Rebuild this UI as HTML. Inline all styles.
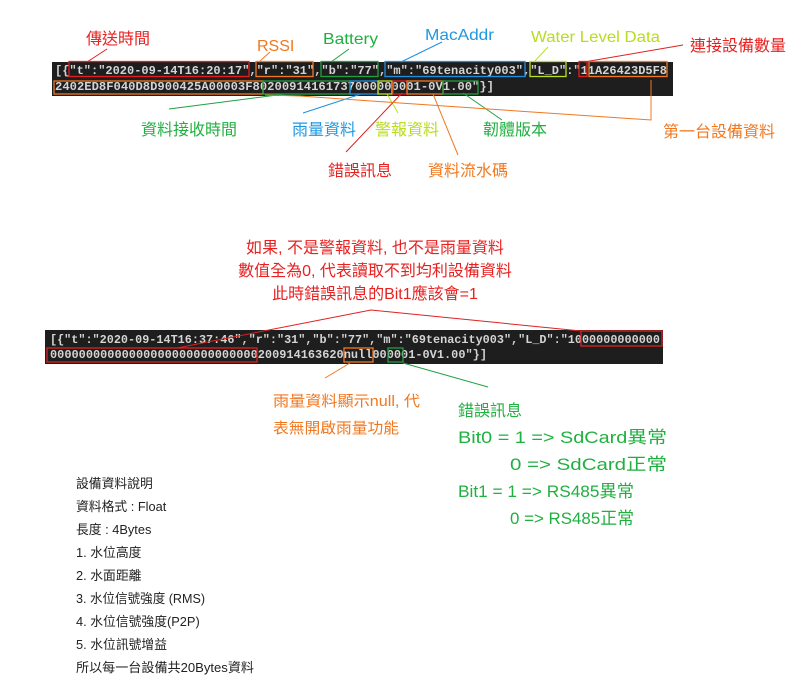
<!DOCTYPE html>
<html><head><meta charset="utf-8"><style>
html,body{margin:0;padding:0;background:#fff;width:810px;height:689px;overflow:hidden}
svg{display:block}
.m{font-family:"Liberation Mono","DejaVu Sans Mono",monospace;font-weight:bold;font-size:12px;fill:#d4d4d4}
.l{font-family:"Liberation Sans","Noto Sans CJK TC",sans-serif;font-size:16px}
.s{font-family:"Liberation Sans","Noto Sans CJK TC",sans-serif;font-size:12.8px;fill:#222}
</style></head><body>
<svg width="810" height="689" viewBox="0 0 810 689" xmlns="http://www.w3.org/2000/svg">
<!-- block 1 -->
<rect x="52" y="62" width="621" height="34" fill="#1e1e1e"/>
<text class="m" x="55" y="74" textLength="612" lengthAdjust="spacingAndGlyphs">[{"t":"2020-09-14T16:20:17","r":"31","b":"77","m":"69tenacity003","L_D":"11A26423D5F8</text>
<text class="m" x="55" y="90" textLength="439" lengthAdjust="spacingAndGlyphs">2402ED8F040D8D900425A00003F80200914161737000000001-0V1.00"}]</text>
<g fill="none" stroke-width="1.3">
<rect x="69" y="61.5" width="180" height="15" stroke="#e02020"/>
<rect x="256" y="61.5" width="57" height="15" stroke="#f07820"/>
<rect x="321" y="61.5" width="57" height="15" stroke="#20a040"/>
<rect x="385" y="61.5" width="140" height="15" stroke="#1e90e0"/>
<rect x="530" y="61.5" width="36" height="15" stroke="#b8e020"/>
<rect x="579" y="61.5" width="8" height="15" stroke="#e02020"/>
<rect x="589" y="61.5" width="78" height="15" stroke="#f07820"/>
<rect x="54" y="81" width="209" height="13" stroke="#f07820"/>
<rect x="263" y="81" width="87" height="13" stroke="#20a040"/>
<rect x="350" y="81" width="28" height="13" stroke="#1e90e0"/>
<rect x="378" y="81" width="14" height="13" stroke="#b8e020"/>
<rect x="393" y="81" width="14" height="13" stroke="#e02020"/>
<rect x="407" y="81" width="36" height="13" stroke="#f07820"/>
<rect x="443" y="81" width="35" height="13" stroke="#20a040"/>
</g>
<g fill="none" stroke-width="1">
<line x1="107" y1="49" x2="87" y2="62" stroke="#e02020"/>
<line x1="270" y1="52" x2="259" y2="62" stroke="#f07820"/>
<line x1="349" y1="49" x2="331" y2="62" stroke="#20a040"/>
<line x1="442" y1="42" x2="401" y2="62" stroke="#1e90e0"/>
<line x1="548" y1="47" x2="534" y2="62" stroke="#b8e020"/>
<line x1="683" y1="45" x2="584" y2="62" stroke="#e02020"/>
<line x1="169" y1="109" x2="285" y2="94" stroke="#20a040"/>
<line x1="303" y1="113" x2="361" y2="94" stroke="#1e90e0"/>
<line x1="398" y1="113" x2="387" y2="94" stroke="#b8e020"/>
<line x1="346" y1="152" x2="402" y2="93" stroke="#e02020"/>
<line x1="458" y1="155" x2="433" y2="94" stroke="#f07820"/>
<line x1="502" y1="120" x2="463" y2="93" stroke="#20a040"/>
<polyline points="265,95 300,96 400,103 651,120 651,80" stroke="#f07820"/>
</g>
<text class="l" x="86" y="44" fill="#e82020">傳送時間</text>
<text class="l" x="257" y="51" fill="#f07820">RSSI</text>
<text class="l" x="323" y="44" fill="#20b040" textLength="55" lengthAdjust="spacingAndGlyphs">Battery</text>
<text class="l" x="425" y="40" fill="#1e98e0" textLength="69" lengthAdjust="spacingAndGlyphs">MacAddr</text>
<text class="l" x="531" y="42" fill="#b8dc20" textLength="129" lengthAdjust="spacingAndGlyphs">Water Level Data</text>
<text class="l" x="690" y="51" fill="#e82020">連接設備數量</text>
<text class="l" x="141" y="135" fill="#20b040">資料接收時間</text>
<text class="l" x="292" y="135" fill="#1e98e0">雨量資料</text>
<text class="l" x="375" y="135" fill="#b8dc20">警報資料</text>
<text class="l" x="483" y="135" fill="#20b040">韌體版本</text>
<text class="l" x="663" y="137" fill="#f07820">第一台設備資料</text>
<text class="l" x="328" y="176" fill="#e82020">錯誤訊息</text>
<text class="l" x="428" y="176" fill="#f07820">資料流水碼</text>

<!-- middle red text -->
<text class="l" x="375" y="253" fill="#e82020" text-anchor="middle">如果, 不是警報資料, 也不是雨量資料</text>
<text class="l" x="375" y="276" fill="#e82020" text-anchor="middle">數值全為0, 代表讀取不到均利設備資料</text>
<text class="l" x="375" y="299" fill="#e82020" text-anchor="middle">此時錯誤訊息的Bit1應該會=1</text>

<!-- block 2 -->
<rect x="45" y="330" width="618" height="34" fill="#1e1e1e"/>
<text class="m" x="50" y="343" textLength="610" lengthAdjust="spacingAndGlyphs">[{"t":"2020-09-14T16:37:46","r":"31","b":"77","m":"69tenacity003","L_D":"1000000000000</text>
<text class="m" x="50" y="358" textLength="437" lengthAdjust="spacingAndGlyphs">00000000000000000000000000000200914163620null000001-0V1.00"}]</text>
<g fill="none" stroke-width="1.3">
<rect x="581" y="331" width="81" height="15" stroke="#e02020"/>
<rect x="47" y="348" width="210" height="14" stroke="#e02020"/>
<rect x="344" y="348" width="29" height="14" stroke="#f07820"/>
<rect x="388" y="348" width="15" height="14" stroke="#20a040"/>
</g>
<g fill="none" stroke-width="1">
<polyline points="177,348 371,310 581,331" stroke="#e02020"/>
<line x1="350" y1="363" x2="325" y2="378" stroke="#f07820"/>
<line x1="403" y1="363" x2="488" y2="387" stroke="#20a040"/>
</g>
<text class="l" x="273" y="406" fill="#f07820" style="font-size:15px" textLength="147" lengthAdjust="spacingAndGlyphs">雨量資料顯示null, 代</text>
<text class="l" x="273" y="433" fill="#f07820" style="font-size:15px" textLength="126" lengthAdjust="spacingAndGlyphs">表無開啟雨量功能</text>
<text class="l" x="458" y="416" fill="#20b040">錯誤訊息</text>
<text class="l" x="458" y="443" fill="#20b040" style="font-size:17px" textLength="209" lengthAdjust="spacingAndGlyphs">Bit0 = 1 =&gt; SdCard異常</text>
<text class="l" x="510" y="470" fill="#20b040" style="font-size:17px" textLength="157" lengthAdjust="spacingAndGlyphs">0 =&gt; SdCard正常</text>
<text class="l" x="458" y="497" fill="#20b040" style="font-size:17px" textLength="176" lengthAdjust="spacingAndGlyphs">Bit1 = 1 =&gt; RS485異常</text>
<text class="l" x="510" y="524" fill="#20b040" style="font-size:17px" textLength="124" lengthAdjust="spacingAndGlyphs">0 =&gt; RS485正常</text>

<!-- bottom notes -->
<text class="s" x="76" y="488">設備資料說明</text>
<text class="s" x="76" y="511">資料格式 : Float</text>
<text class="s" x="76" y="534">長度 : 4Bytes</text>
<text class="s" x="76" y="557">1. 水位高度</text>
<text class="s" x="76" y="580">2. 水面距離</text>
<text class="s" x="76" y="603" textLength="129" lengthAdjust="spacingAndGlyphs">3. 水位信號強度 (RMS)</text>
<text class="s" x="76" y="626">4. 水位信號強度(P2P)</text>
<text class="s" x="76" y="649">5. 水位訊號增益</text>
<text class="s" x="76" y="672" textLength="178" lengthAdjust="spacingAndGlyphs">所以每一台設備共20Bytes資料</text>
</svg>
</body></html>
